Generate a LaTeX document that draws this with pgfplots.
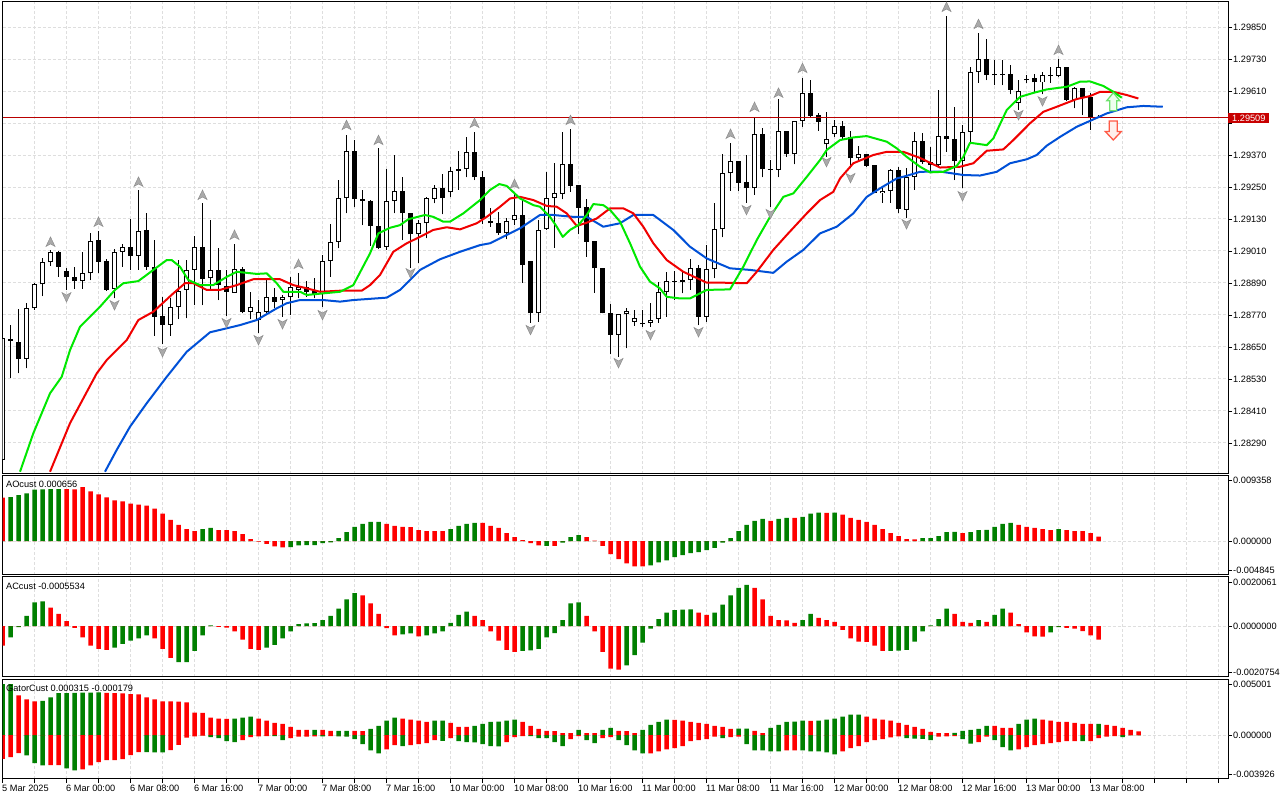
\documentclass[border=0pt]{standalone}
\usepackage{fontspec}
\setmainfont{Liberation Sans}
\usepackage{pgfplots}
\usepackage{pgfplotstable}
\pgfplotsset{compat=1.18}

\definecolor{barg}{RGB}{0,128,0}
\definecolor{barr}{RGB}{255,0,0}
\definecolor{gridc}{RGB}{222,222,222}
\definecolor{lips}{RGB}{0,232,0}
\definecolor{teeth}{RGB}{240,0,0}
\definecolor{jaw}{RGB}{0,80,215}
\definecolor{bidline}{RGB}{185,0,0}
\definecolor{bidbox}{RGB}{200,0,0}
\definecolor{fracfill}{RGB}{170,170,170}
\definecolor{fracdraw}{RGB}{140,140,140}
\definecolor{upedge}{RGB}{110,225,110}
\definecolor{upfill}{RGB}{238,255,238}
\definecolor{dnedge}{RGB}{255,90,70}
\definecolor{dnfill}{RGB}{255,240,236}

\newcommand{\lab}{\fontsize{9.2}{11}\selectfont}

\pgfdeclareplotmark{fup}{%
  \pgfpathmoveto{\pgfqpoint{0pt}{5pt}}%
  \pgfpathlineto{\pgfqpoint{4.5pt}{-4.5pt}}%
  \pgfpathlineto{\pgfqpoint{0pt}{-2pt}}%
  \pgfpathlineto{\pgfqpoint{-4.5pt}{-4.5pt}}%
  \pgfpathclose
  \pgfusepathqfillstroke}
\pgfdeclareplotmark{fdown}{%
  \pgfpathmoveto{\pgfqpoint{0pt}{-5pt}}%
  \pgfpathlineto{\pgfqpoint{4.5pt}{4.5pt}}%
  \pgfpathlineto{\pgfqpoint{0pt}{2pt}}%
  \pgfpathlineto{\pgfqpoint{-4.5pt}{4.5pt}}%
  \pgfpathclose
  \pgfusepathqfillstroke}
\pgfdeclareplotmark{bigup}{%
  \pgfpathmoveto{\pgfqpoint{0pt}{9pt}}%
  \pgfpathlineto{\pgfqpoint{6.5pt}{1pt}}%
  \pgfpathlineto{\pgfqpoint{3.5pt}{1pt}}%
  \pgfpathlineto{\pgfqpoint{3.5pt}{-9pt}}%
  \pgfpathlineto{\pgfqpoint{-3.5pt}{-9pt}}%
  \pgfpathlineto{\pgfqpoint{-3.5pt}{1pt}}%
  \pgfpathlineto{\pgfqpoint{-6.5pt}{1pt}}%
  \pgfpathclose
  \pgfusepathqfillstroke}
\pgfdeclareplotmark{bigdown}{%
  \pgfpathmoveto{\pgfqpoint{0pt}{-9.5pt}}%
  \pgfpathlineto{\pgfqpoint{8pt}{-1pt}}%
  \pgfpathlineto{\pgfqpoint{4pt}{-1pt}}%
  \pgfpathlineto{\pgfqpoint{4pt}{9.5pt}}%
  \pgfpathlineto{\pgfqpoint{-4pt}{9.5pt}}%
  \pgfpathlineto{\pgfqpoint{-4pt}{-1pt}}%
  \pgfpathlineto{\pgfqpoint{-8pt}{-1pt}}%
  \pgfpathclose
  \pgfusepathqfillstroke}

\pgfplotsset{
  pane/.style={
    scale only axis, width=1225.5pt,
    xmin=0, xmax=153.1875,
    scaled x ticks=false, scaled y ticks=false,
    axis line style={black, line width=1pt},
    xtick={0,4,...,152}, xticklabels={}, xmajorgrids=true,
    grid style={gridc, line width=1pt, dash pattern=on 3pt off 2pt},
    ytick pos=right, yticklabel pos=right,
    tick align=outside, major tick length=4pt,
    tick style={black, line width=0.8pt},
    yticklabel style={font=\lab, anchor=west, inner sep=0pt, xshift=1pt},
    xmajorticks=false,
    clip mode=individual,
  },
  hbar/.style={ybar, bar width=4.5pt, bar shift=0pt, draw=none, forget plot},
  ebar/.style={only marks, mark=*, mark size=0pt, mark options={draw=none, fill=none}, forget plot},
}

% k open high low close (H1 candles)
\pgfplotstableread{
k o h l c
0 1.28226 1.28683 1.28188 1.28683
1 1.28674 1.28732 1.28534 1.28678
2 1.28670 1.28791 1.28551 1.28604
3 1.28604 1.28814 1.28570 1.28795
4 1.28795 1.28890 1.28789 1.28885
5 1.28885 1.28982 1.28841 1.28967
6 1.28967 1.29014 1.28954 1.29006
7 1.29006 1.29010 1.28913 1.28951
8 1.28935 1.28945 1.28864 1.28911
9 1.28911 1.28951 1.28868 1.28896
10 1.28896 1.29007 1.28868 1.28926
11 1.28926 1.29078 1.28901 1.29047
12 1.29051 1.29085 1.28926 1.28970
13 1.28973 1.28979 1.28861 1.28864
14 1.28867 1.29016 1.28832 1.29007
15 1.29007 1.29036 1.28951 1.29024
16 1.29024 1.29129 1.28939 1.28991
17 1.28992 1.29239 1.28939 1.29085
18 1.29089 1.29151 1.28939 1.28951
19 1.28951 1.29051 1.28692 1.28763
20 1.28767 1.28838 1.28660 1.28733
21 1.28733 1.28832 1.28692 1.28801
22 1.28799 1.28976 1.28754 1.28861
23 1.28864 1.28976 1.28757 1.28939
24 1.28939 1.29067 1.28807 1.29024
25 1.29024 1.29189 1.28807 1.28904
26 1.28907 1.29126 1.28864 1.28939
27 1.28939 1.29020 1.28826 1.28882
28 1.28879 1.28939 1.28767 1.28857
29 1.28853 1.29036 1.28853 1.28941
30 1.28941 1.28951 1.28776 1.28782
31 1.28782 1.28857 1.28754 1.28801
32 1.28751 1.28826 1.28703 1.28782
33 1.28782 1.28901 1.28776 1.28836
34 1.28836 1.28870 1.28795 1.28820
35 1.28826 1.28845 1.28763 1.28836
36 1.28836 1.28913 1.28770 1.28876
37 1.28864 1.28926 1.28832 1.28876
38 1.28876 1.28897 1.28838 1.28857
39 1.28861 1.28907 1.28832 1.28849
40 1.28849 1.28995 1.28801 1.28972
41 1.28972 1.29111 1.28913 1.29044
42 1.29044 1.29276 1.29020 1.29207
43 1.29207 1.29445 1.29151 1.29385
44 1.29385 1.29426 1.29174 1.29204
45 1.29205 1.29239 1.29107 1.29197
46 1.29197 1.29201 1.29030 1.29105
47 1.29105 1.29395 1.29017 1.29022
48 1.29026 1.29317 1.29014 1.29197
49 1.29197 1.29370 1.29151 1.29235
50 1.29235 1.29288 1.29051 1.29151
51 1.29151 1.29152 1.28947 1.29072
52 1.29072 1.29126 1.28966 1.29114
53 1.29114 1.29213 1.29057 1.29207
54 1.29205 1.29257 1.29189 1.29245
55 1.29245 1.29299 1.29147 1.29207
56 1.29230 1.29326 1.29211 1.29310
57 1.29317 1.29385 1.29239 1.29311
58 1.29316 1.29438 1.29286 1.29380
59 1.29380 1.29457 1.29276 1.29286
60 1.29286 1.29310 1.29111 1.29130
61 1.29123 1.29170 1.29101 1.29114
62 1.29114 1.29155 1.29070 1.29076
63 1.29076 1.29132 1.29054 1.29123
64 1.29126 1.29227 1.29107 1.29144
65 1.29145 1.29201 1.28891 1.28957
66 1.28972 1.28972 1.28741 1.28776
67 1.28776 1.29126 1.28745 1.29089
68 1.29091 1.29307 1.29089 1.29207
69 1.29207 1.29341 1.29022 1.29226
70 1.29224 1.29457 1.29204 1.29336
71 1.29336 1.29466 1.29232 1.29255
72 1.29257 1.29257 1.29072 1.29172
73 1.29174 1.29204 1.28988 1.29045
74 1.29047 1.29047 1.28853 1.28945
75 1.28947 1.28947 1.28776 1.28776
76 1.28776 1.28811 1.28622 1.28695
77 1.28695 1.28772 1.28613 1.28772
78 1.28772 1.28795 1.28645 1.28786
79 1.28745 1.28789 1.28729 1.28757
80 1.28737 1.28789 1.28726 1.28735
81 1.28739 1.28814 1.28725 1.28751
82 1.28754 1.28895 1.28741 1.28855
83 1.28855 1.28932 1.28763 1.28897
84 1.28897 1.28936 1.28826 1.28894
85 1.28894 1.28939 1.28851 1.28901
86 1.28901 1.28979 1.28864 1.28945
87 1.28945 1.28957 1.28732 1.28763
88 1.28763 1.29032 1.28745 1.28941
89 1.28941 1.29189 1.28907 1.29091
90 1.29091 1.29372 1.29061 1.29301
91 1.29301 1.29414 1.29236 1.29347
92 1.29347 1.29347 1.29236 1.29266
93 1.29267 1.29370 1.29191 1.29245
94 1.29245 1.29513 1.29220 1.29449
95 1.29449 1.29470 1.29286 1.29316
96 1.29316 1.29351 1.29176 1.29314
97 1.29314 1.29579 1.29286 1.29460
98 1.29460 1.29460 1.29363 1.29372
99 1.29372 1.29497 1.29335 1.29497
100 1.29497 1.29657 1.29476 1.29601
101 1.29601 1.29651 1.29513 1.29517
102 1.29520 1.29528 1.29461 1.29495
103 1.29410 1.29530 1.29363 1.29429
104 1.29449 1.29501 1.29438 1.29480
105 1.29480 1.29498 1.29429 1.29436
106 1.29436 1.29461 1.29320 1.29357
107 1.29357 1.29404 1.29351 1.29372
108 1.29372 1.29372 1.29326 1.29329
109 1.29332 1.29332 1.29226 1.29226
110 1.29226 1.29249 1.29191 1.29235
111 1.29236 1.29316 1.29191 1.29314
112 1.29314 1.29324 1.29151 1.29166
113 1.29164 1.29320 1.29132 1.29286
114 1.29286 1.29457 1.29239 1.29422
115 1.29422 1.29451 1.29336 1.29345
116 1.29345 1.29401 1.29301 1.29332
117 1.29332 1.29614 1.29326 1.29441
118 1.29441 1.29891 1.29382 1.29429
119 1.29429 1.29551 1.29276 1.29348
120 1.29348 1.29482 1.29245 1.29457
121 1.29457 1.29701 1.29414 1.29681
122 1.29681 1.29828 1.29641 1.29729
123 1.29729 1.29804 1.29651 1.29670
124 1.29673 1.29726 1.29632 1.29669
125 1.29673 1.29726 1.29632 1.29671
126 1.29673 1.29707 1.29597 1.29614
127 1.29564 1.29651 1.29539 1.29610
128 1.29650 1.29670 1.29641 1.29657
129 1.29657 1.29673 1.29607 1.29642
130 1.29642 1.29682 1.29597 1.29670
131 1.29669 1.29701 1.29641 1.29666
132 1.29666 1.29732 1.29661 1.29699
133 1.29699 1.29701 1.29573 1.29576
134 1.29576 1.29624 1.29545 1.29620
135 1.29620 1.29620 1.29520 1.29582
136 1.29586 1.29603 1.29464 1.29507
137 1.29510 1.29520 1.29507 1.29509
}\candles

% AO: k value green(1)/red(0)
\pgfplotstableread{
k v g
0 6.24e-3 0
1 6.34e-3 1
2 6.63e-3 1
3 6.87e-3 1
4 7.40e-3 1
5 7.44e-3 1
6 7.46e-3 1
7 7.48e-3 1
8 7.46e-3 0
9 7.44e-3 0
10 7.75e-3 0
11 7.16e-3 0
12 6.73e-3 0
13 6.29e-3 0
14 5.85e-3 0
15 5.70e-3 0
16 5.41e-3 0
17 5.26e-3 0
18 5.12e-3 0
19 4.68e-3 0
20 3.95e-3 0
21 3.07e-3 0
22 2.34e-3 0
23 1.75e-3 0
24 1.46e-3 0
25 1.75e-3 1
26 1.90e-3 1
27 1.61e-3 0
28 1.60e-3 0
29 1.46e-3 0
30 1.02e-3 0
31 0.29e-3 0
32 -0.05e-3 0
33 -0.39e-3 0
34 -0.73e-3 0
35 -0.88e-3 0
36 -0.86e-3 1
37 -0.58e-3 1
38 -0.57e-3 1
39 -0.56e-3 1
40 -0.29e-3 1
41 -0.15e-3 1
42 0.44e-3 1
43 1.32e-3 1
44 2.05e-3 1
45 2.49e-3 1
46 2.78e-3 1
47 2.79e-3 1
48 2.49e-3 0
49 2.19e-3 0
50 2.05e-3 0
51 2.04e-3 0
52 1.61e-3 0
53 1.46e-3 0
54 1.45e-3 0
55 1.44e-3 0
56 1.75e-3 1
57 2.19e-3 1
58 2.49e-3 1
59 2.63e-3 1
60 2.62e-3 0
61 2.19e-3 0
62 1.90e-3 0
63 1.17e-3 0
64 0.58e-3 0
65 0.15e-3 0
66 -0.29e-3 0
67 -0.58e-3 0
68 -0.66e-3 1
69 -0.68e-3 0
70 -0.19e-3 1
71 0.58e-3 1
72 0.88e-3 1
73 0.58e-3 0
74 0.10e-3 0
75 -0.68e-3 0
76 -1.85e-3 0
77 -2.58e-3 0
78 -3.17e-3 0
79 -3.61e-3 0
80 -3.62e-3 0
81 -3.46e-3 1
82 -3.02e-3 1
83 -2.73e-3 1
84 -2.29e-3 1
85 -2.00e-3 1
86 -1.71e-3 1
87 -1.56e-3 1
88 -1.27e-3 1
89 -0.97e-3 1
90 -0.19e-3 1
91 0.44e-3 1
92 1.46e-3 1
93 2.34e-3 1
94 2.92e-3 1
95 3.22e-3 1
96 2.92e-3 0
97 3.22e-3 1
98 3.36e-3 1
99 3.34e-3 0
100 3.51e-3 1
101 3.95e-3 1
102 4.09e-3 1
103 4.08e-3 0
104 4.10e-3 1
105 3.80e-3 0
106 3.36e-3 0
107 3.07e-3 0
108 2.78e-3 0
109 2.34e-3 0
110 1.75e-3 0
111 1.17e-3 0
112 0.73e-3 0
113 0.29e-3 0
114 0.28e-3 0
115 0.44e-3 1
116 0.45e-3 1
117 0.73e-3 1
118 1.32e-3 1
119 1.33e-3 1
120 1.17e-3 0
121 1.32e-3 1
122 1.61e-3 1
123 1.62e-3 1
124 2.05e-3 1
125 2.49e-3 1
126 2.63e-3 1
127 2.34e-3 0
128 2.05e-3 0
129 1.90e-3 0
130 1.75e-3 0
131 1.61e-3 0
132 1.75e-3 1
133 1.61e-3 0
134 1.46e-3 0
135 1.45e-3 0
136 1.17e-3 0
137 0.656e-3 0
}\ao

% AC: k value green(1)/red(0)
\pgfplotstableread{
k v g
0 -0.80e-3 0
1 -0.46e-3 1
2 -0.04e-3 1
3 0.42e-3 1
4 0.97e-3 1
5 1.01e-3 1
6 0.76e-3 0
7 0.50e-3 0
8 0.21e-3 0
9 -0.07e-3 0
10 -0.46e-3 0
11 -0.80e-3 0
12 -0.93e-3 0
13 -0.97e-3 0
14 -0.88e-3 1
15 -0.72e-3 1
16 -0.59e-3 1
17 -0.50e-3 1
18 -0.38e-3 1
19 -0.50e-3 0
20 -0.93e-3 0
21 -1.30e-3 0
22 -1.47e-3 1
23 -1.47e-3 1
24 -1.01e-3 1
25 -0.38e-3 1
26 0.03e-3 1
27 -0.03e-3 0
28 -0.06e-3 0
29 -0.21e-3 0
30 -0.55e-3 0
31 -0.93e-3 0
32 -0.97e-3 0
33 -0.88e-3 1
34 -0.76e-3 1
35 -0.50e-3 1
36 -0.21e-3 1
37 0.08e-3 1
38 0.11e-3 1
39 0.12e-3 1
40 0.25e-3 1
41 0.42e-3 1
42 0.72e-3 1
43 1.09e-3 1
44 1.35e-3 1
45 1.26e-3 0
46 0.93e-3 0
47 0.50e-3 0
48 -0.08e-3 0
49 -0.38e-3 0
50 -0.34e-3 1
51 -0.29e-3 1
52 -0.42e-3 0
53 -0.38e-3 1
54 -0.29e-3 1
55 -0.21e-3 1
56 0.13e-3 1
57 0.46e-3 1
58 0.59e-3 1
59 0.42e-3 0
60 0.25e-3 0
61 -0.21e-3 0
62 -0.59e-3 0
63 -0.97e-3 0
64 -1.05e-3 0
65 -1.01e-3 1
66 -0.99e-3 1
67 -0.93e-3 1
68 -0.46e-3 1
69 -0.28e-3 1
70 0.25e-3 1
71 0.93e-3 1
72 0.97e-3 1
73 0.42e-3 0
74 -0.21e-3 0
75 -1.05e-3 0
76 -1.73e-3 0
77 -1.77e-3 0
78 -1.60e-3 1
79 -1.18e-3 1
80 -0.67e-3 1
81 -0.10e-3 1
82 0.29e-3 1
83 0.55e-3 1
84 0.65e-3 1
85 0.67e-3 1
86 0.68e-3 1
87 0.55e-3 0
88 0.46e-3 0
89 0.55e-3 1
90 0.88e-3 1
91 1.26e-3 1
92 1.56e-3 1
93 1.68e-3 1
94 1.56e-3 0
95 1.09e-3 0
96 0.42e-3 0
97 0.25e-3 0
98 0.24e-3 0
99 0.13e-3 0
100 0.25e-3 1
101 0.50e-3 1
102 0.34e-3 0
103 0.25e-3 0
104 0.17e-3 0
105 -0.15e-3 0
106 -0.50e-3 0
107 -0.63e-3 0
108 -0.64e-3 0
109 -0.80e-3 0
110 -1.01e-3 0
111 -1.01e-3 1
112 -1.00e-3 1
113 -0.97e-3 1
114 -0.63e-3 1
115 -0.21e-3 1
116 0.03e-3 1
117 0.29e-3 1
118 0.72e-3 1
119 0.50e-3 0
120 0.17e-3 0
121 0.13e-3 0
122 0.25e-3 1
123 0.17e-3 0
124 0.46e-3 1
125 0.72e-3 1
126 0.55e-3 0
127 0.08e-3 0
128 -0.25e-3 0
129 -0.42e-3 0
130 -0.43e-3 0
131 -0.25e-3 1
132 -0.04e-3 1
133 -0.07e-3 0
134 -0.10e-3 0
135 -0.20e-3 0
136 -0.38e-3 0
137 -0.5534e-3 0
}\ac

% Gator: k upper green? lower green?
\pgfplotstableread{
k up ug lo lg
0 4.55e-3 1 -2.13e-3 0
1 4.55e-3 1 -1.97e-3 0
2 3.55e-3 0 -1.61e-3 0
3 3.19e-3 0 -1.82e-3 1
4 3.01e-3 0 -2.52e-3 1
5 3.05e-3 1 -2.70e-3 1
6 3.37e-3 1 -2.69e-3 0
7 3.73e-3 1 -2.68e-3 0
8 3.75e-3 1 -2.98e-3 1
9 3.77e-3 1 -3.16e-3 1
10 3.78e-3 1 -3.07e-3 0
11 3.79e-3 1 -2.70e-3 0
12 3.80e-3 1 -2.43e-3 0
13 3.76e-3 0 -2.25e-3 0
14 3.74e-3 0 -2.24e-3 0
15 3.72e-3 0 -2.16e-3 0
16 3.64e-3 0 -1.79e-3 0
17 3.62e-3 0 -1.52e-3 0
18 3.37e-3 0 -1.53e-3 1
19 3.19e-3 0 -1.54e-3 1
20 3.01e-3 0 -1.56e-3 1
21 3.00e-3 0 -1.34e-3 0
22 2.99e-3 0 -0.88e-3 0
23 2.91e-3 0 -0.24e-3 0
24 2.00e-3 0 -0.12e-3 0
25 1.98e-3 0 -0.06e-3 0
26 1.55e-3 0 -0.18e-3 1
27 1.46e-3 0 -0.27e-3 1
28 1.45e-3 0 -0.55e-3 1
29 1.47e-3 1 -0.64e-3 1
30 1.55e-3 1 -0.46e-3 0
31 1.64e-3 1 -0.18e-3 0
32 1.46e-3 0 -0.12e-3 0
33 1.28e-3 0 -0.09e-3 0
34 1.09e-3 0 -0.10e-3 1
35 1.00e-3 0 -0.46e-3 1
36 0.73e-3 0 -0.27e-3 0
37 0.46e-3 0 -0.15e-3 0
38 0.45e-3 0 -0.14e-3 0
39 0.47e-3 1 -0.12e-3 0
40 0.45e-3 0 -0.13e-3 1
41 0.36e-3 0 -0.09e-3 0
42 0.37e-3 1 -0.12e-3 1
43 0.38e-3 1 -0.15e-3 1
44 0.36e-3 0 -0.36e-3 1
45 0.35e-3 0 -0.82e-3 1
46 0.55e-3 1 -1.37e-3 1
47 0.82e-3 1 -1.64e-3 1
48 1.28e-3 1 -1.28e-3 0
49 1.55e-3 1 -0.91e-3 0
50 1.46e-3 0 -1.00e-3 1
51 1.37e-3 0 -0.91e-3 0
52 1.28e-3 0 -0.82e-3 0
53 1.18e-3 0 -0.73e-3 0
54 1.28e-3 1 -0.46e-3 0
55 1.29e-3 1 -0.52e-3 1
56 1.09e-3 0 -0.27e-3 0
57 0.73e-3 0 -0.55e-3 1
58 0.72e-3 0 -0.64e-3 1
59 0.82e-3 1 -0.65e-3 1
60 1.00e-3 1 -0.82e-3 1
61 1.18e-3 1 -1.00e-3 1
62 1.19e-3 1 -1.01e-3 1
63 1.28e-3 1 -0.64e-3 0
64 1.37e-3 1 -0.18e-3 0
65 1.18e-3 0 -0.09e-3 0
66 0.82e-3 0 -0.10e-3 1
67 0.55e-3 0 -0.27e-3 1
68 0.36e-3 0 -0.28e-3 1
69 0.35e-3 0 -0.64e-3 1
70 0.18e-3 0 -1.00e-3 1
71 0.17e-3 0 -0.36e-3 0
72 0.46e-3 1 -0.10e-3 0
73 0.18e-3 0 -0.46e-3 1
74 0.17e-3 0 -0.73e-3 1
75 0.46e-3 1 -0.27e-3 0
76 0.64e-3 1 -0.18e-3 0
77 0.36e-3 0 -0.46e-3 1
78 0.35e-3 0 -0.91e-3 1
79 0.18e-3 0 -1.37e-3 1
80 0.46e-3 1 -1.64e-3 1
81 0.91e-3 1 -1.63e-3 0
82 1.18e-3 1 -1.46e-3 0
83 1.37e-3 1 -1.28e-3 0
84 1.36e-3 0 -1.18e-3 0
85 1.28e-3 0 -1.00e-3 0
86 1.18e-3 0 -0.55e-3 0
87 1.09e-3 0 -0.46e-3 0
88 1.00e-3 0 -0.36e-3 0
89 0.82e-3 0 -0.15e-3 0
90 0.73e-3 0 -0.27e-3 1
91 0.55e-3 0 -0.18e-3 0
92 0.56e-3 1 -0.15e-3 0
93 0.57e-3 1 -0.82e-3 1
94 0.36e-3 0 -1.37e-3 1
95 0.18e-3 0 -1.38e-3 1
96 0.64e-3 1 -1.46e-3 1
97 0.91e-3 1 -1.47e-3 1
98 1.18e-3 1 -1.37e-3 0
99 1.19e-3 1 -1.36e-3 0
100 1.28e-3 1 -1.38e-3 1
101 1.27e-3 0 -1.46e-3 1
102 1.29e-3 1 -1.47e-3 1
103 1.37e-3 1 -1.55e-3 1
104 1.46e-3 1 -1.73e-3 1
105 1.64e-3 1 -1.46e-3 0
106 1.82e-3 1 -1.18e-3 0
107 1.83e-3 1 -1.00e-3 0
108 1.64e-3 0 -0.64e-3 0
109 1.46e-3 0 -0.46e-3 0
110 1.37e-3 0 -0.36e-3 0
111 1.28e-3 0 -0.20e-3 0
112 1.09e-3 0 -0.12e-3 0
113 0.91e-3 0 -0.27e-3 1
114 0.73e-3 0 -0.33e-3 1
115 0.55e-3 0 -0.34e-3 1
116 0.27e-3 0 -0.46e-3 1
117 0.18e-3 0 -0.15e-3 0
118 0.17e-3 0 -0.12e-3 0
119 0.19e-3 1 -0.09e-3 0
120 0.36e-3 1 -0.36e-3 1
121 0.46e-3 1 -0.76e-3 1
122 0.55e-3 1 -0.64e-3 0
123 0.82e-3 1 -0.15e-3 0
124 0.81e-3 0 -0.46e-3 1
125 0.64e-3 0 -1.09e-3 1
126 0.63e-3 0 -1.37e-3 1
127 1.00e-3 1 -1.28e-3 0
128 1.37e-3 1 -1.09e-3 0
129 1.46e-3 1 -0.91e-3 0
130 1.37e-3 0 -0.82e-3 0
131 1.28e-3 0 -0.73e-3 0
132 1.18e-3 0 -0.64e-3 0
133 1.17e-3 0 -0.55e-3 0
134 1.09e-3 0 -0.54e-3 0
135 1.00e-3 0 -0.55e-3 1
136 0.99e-3 0 -0.54e-3 0
137 1.00e-3 1 -0.27e-3 0
138 0.91e-3 0 -0.15e-3 0
139 0.82e-3 0 -0.09e-3 0
140 0.64e-3 0 -0.179e-3 1
141 0.46e-3 0 0 0
142 0.315e-3 0 0 0
}\gator

\begin{document}
\begin{tikzpicture}[x=1pt,y=1pt]
\useasboundingbox (0,0) rectangle (1280,800);

% ================= MAIN PRICE PANE =================
\begin{axis}[pane, at={(2.5pt,326pt)}, anchor=south west, height=472pt,
  ymin=1.281735, ymax=1.29944, ymajorgrids=true,
  ytick={1.28290,1.28410,1.28530,1.28650,1.28770,1.28890,1.29010,1.29130,1.29250,1.29370,1.29490,1.29610,1.29730,1.29850},
  yticklabels={1.28290,1.28410,1.28530,1.28650,1.28770,1.28890,1.29010,1.29130,1.29250,1.29370,,1.29610,1.29730,1.29850},
]
% wicks
\addplot[ebar,
  error bars/.cd, y dir=plus, y explicit, error mark=none,
  error bar style={black, line width=1pt}]
  table[x=k, y=l, y error plus expr={\thisrow{h}-\thisrow{l}}]{\candles};
% bearish bodies
\addplot[ebar,
  error bars/.cd, y dir=plus, y explicit, error mark=none,
  error bar style={black, line width=5pt}]
  table[x=k, y expr={\thisrow{c}<\thisrow{o} ? \thisrow{c} : 1.27},
        y error plus expr={max(\thisrow{o}-\thisrow{c},3.75e-5)}]{\candles};
% bullish bodies: outline
\addplot[ebar,
  error bars/.cd, y dir=plus, y explicit, error mark=none,
  error bar style={black, line width=5pt}]
  table[x=k, y expr={\thisrow{c}<\thisrow{o} ? 1.27 : \thisrow{o}},
        y error plus expr={max(\thisrow{c}-\thisrow{o},3.75e-5)}]{\candles};
% bullish bodies: white inside
\addplot[ebar,
  error bars/.cd, y dir=plus, y explicit, error mark=none,
  error bar style={white, line width=3pt}]
  table[x=k, y expr={\thisrow{c}<\thisrow{o} ? 1.27 : \thisrow{o}+3.75e-5},
        y error plus expr={max(\thisrow{c}-\thisrow{o}-7.5e-5,0)}]{\candles};
% bid line
\addplot[bidline, line width=1pt, forget plot] coordinates {(0,1.29509) (153.1875,1.29509)};
% Alligator lines
\addplot[jaw, line width=2pt, line join=round] coordinates {
(12.81,1.28182) (14.28,1.28264) (15.94,1.28351) (18.03,1.28439) (20.53,1.28538) (23.03,1.28632) (25.94,1.28705) (28.03,1.28720) (29.69,1.28732) (31.78,1.28751) (34.28,1.28795) (35.53,1.28814) (37.19,1.28826) (40.10,1.28826) (42.19,1.28820) (43.85,1.28826) (48.03,1.28835) (49.69,1.28864) (52.19,1.28939) (54.69,1.28979) (57.19,1.29007) (59.69,1.29032) (60.94,1.29039) (63.03,1.29070) (64.69,1.29095) (67.19,1.29145) (68.85,1.29145) (71.35,1.29138) (73.03,1.29138) (75.10,1.29101) (77.19,1.29114) (78.85,1.29145) (81.35,1.29145) (83.85,1.29089) (85.94,1.29026) (88.03,1.28982) (90.94,1.28945) (93.44,1.28939) (96.35,1.28928) (98.03,1.28970) (100.10,1.29014) (102.19,1.29076) (104.28,1.29101) (106.35,1.29151) (108.03,1.29213) (109.69,1.29245) (111.78,1.29282) (113.03,1.29292) (114.69,1.29307) (117.19,1.29308) (120.10,1.29295) (122.19,1.29293) (124.28,1.29307) (125.94,1.29339) (128.03,1.29354) (129.28,1.29370) (130.53,1.29405) (132.19,1.29438) (134.28,1.29476) (135.94,1.29498) (138.03,1.29526) (140.53,1.29549) (142.60,1.29554) (145.03,1.29551)};
\addplot[teeth, line width=2pt, line join=round] coordinates {
(5.94,1.28182) (8.44,1.28364) (11.78,1.28551) (13.03,1.28601) (15.53,1.28676) (16.98,1.28751) (18.85,1.28782) (21.35,1.28851) (22.81,1.28889) (23.85,1.28889) (25.53,1.28864) (27.19,1.28864) (29.28,1.28882) (31.35,1.28904) (33.03,1.28904) (34.69,1.28904) (36.35,1.28882) (38.03,1.28870) (39.69,1.28857) (42.19,1.28861) (44.90,1.28861) (45.94,1.28882) (47.19,1.28920) (48.85,1.29007) (50.53,1.29039) (52.19,1.29063) (53.85,1.29089) (55.53,1.29099) (57.19,1.29091) (59.28,1.29114) (60.53,1.29138) (62.19,1.29176) (63.44,1.29207) (64.69,1.29213) (66.35,1.29201) (68.03,1.29179) (69.28,1.29176) (70.53,1.29151) (71.78,1.29104) (73.03,1.29116) (74.28,1.29132) (75.94,1.29170) (77.60,1.29170) (78.85,1.29151) (80.10,1.29101) (81.35,1.29039) (83.03,1.28976) (85.10,1.28932) (88.03,1.28891) (90.10,1.28891) (93.03,1.28889) (94.28,1.28932) (96.35,1.29014) (98.03,1.29070) (100.53,1.29151) (102.19,1.29201) (103.85,1.29232) (104.69,1.29282) (106.35,1.29339) (108.85,1.29370) (110.53,1.29382) (112.60,1.29382) (114.69,1.29359) (117.19,1.29323) (119.69,1.29326) (121.35,1.29339) (123.03,1.29386) (125.10,1.29391) (126.35,1.29426) (128.44,1.29489) (130.10,1.29532) (131.78,1.29551) (134.28,1.29580) (135.94,1.29591) (137.19,1.29607) (138.85,1.29607) (140.53,1.29595) (141.98,1.29582)};
\addplot[lips, line width=2pt, line join=round] coordinates {
(2.19,1.28182) (3.85,1.28326) (5.94,1.28476) (7.40,1.28538) (8.44,1.28638) (9.69,1.28726) (12.19,1.28801) (14.06,1.28864) (15.10,1.28889) (16.98,1.28897) (18.85,1.28939) (20.53,1.28976) (21.15,1.28976) (22.19,1.28951) (23.23,1.28901) (24.69,1.28882) (26.35,1.28882) (28.03,1.28913) (29.28,1.28932) (31.78,1.28924) (33.03,1.28926) (34.28,1.28889) (35.10,1.28857) (37.19,1.28857) (38.03,1.28845) (40.10,1.28851) (42.19,1.28857) (43.85,1.28882) (45.94,1.29001) (46.98,1.29076) (48.44,1.29097) (49.69,1.29107) (50.73,1.29129) (52.81,1.29145) (53.85,1.29138) (55.10,1.29120) (55.94,1.29120) (57.60,1.29151) (59.69,1.29201) (60.94,1.29239) (62.10,1.29261) (63.03,1.29254) (64.69,1.29207) (66.35,1.29182) (67.19,1.29176) (68.44,1.29138) (69.28,1.29101) (70.03,1.29063) (70.94,1.29089) (71.98,1.29107) (73.03,1.29145) (73.85,1.29186) (75.10,1.29182) (75.94,1.29164) (77.19,1.29120) (78.44,1.29039) (79.69,1.28951) (80.94,1.28895) (82.16,1.28870) (83.03,1.28838) (84.69,1.28832) (85.94,1.28832) (88.03,1.28864) (90.94,1.28866) (92.60,1.28951) (94.28,1.29051) (95.94,1.29138) (97.60,1.29213) (98.85,1.29226) (100.53,1.29288) (102.19,1.29351) (103.03,1.29389) (104.69,1.29426) (106.35,1.29436) (108.03,1.29441) (110.53,1.29420) (111.78,1.29395) (113.03,1.29363) (114.69,1.29326) (115.94,1.29305) (117.60,1.29307) (119.28,1.29329) (120.10,1.29363) (120.94,1.29416) (123.03,1.29407) (123.85,1.29432) (125.53,1.29539) (127.19,1.29588) (128.85,1.29603) (130.53,1.29616) (133.03,1.29626) (134.69,1.29645) (135.94,1.29646) (137.60,1.29629) (138.85,1.29607) (139.90,1.29585)};
% fractals
\addplot[only marks, mark=fup, mark options={fill=fracfill, draw=fracdraw, line width=0.5pt, solid}] coordinates {
(6,1.29044) (12,1.29119) (17,1.29269) (25,1.29220) (29,1.29070) (37,1.28961) (43,1.29482) (47,1.29426) (59,1.29490) (64,1.29261) (71,1.29501) (91,1.29449) (94,1.29550) (97,1.29603) (100,1.29696) (118,1.29925) (122,1.29861) (132,1.29764)};
\addplot[only marks, mark=fdown, mark options={fill=fracfill, draw=fracdraw, line width=0.5pt, solid}] coordinates {
(8,1.28837) (14,1.28807) (20,1.28631) (28,1.28740) (32,1.28676) (35,1.28736) (40,1.28770) (51,1.28927) (66,1.28714) (77,1.28590) (81,1.28695) (87,1.28706) (93,1.29164) (96,1.29149) (103,1.29344) (106,1.29284) (113,1.29111) (120,1.29216) (127,1.29520) (130,1.29572)};
% signal arrows
\addplot[only marks, mark=bigup, mark options={fill=upfill, draw=upedge, line width=1.3pt, solid}] coordinates {(138.85,1.29570)};
\addplot[only marks, mark=bigdown, mark options={fill=dnfill, draw=dnedge, line width=1.3pt, solid}] coordinates {(138.85,1.29462)};
\coordinate (bid) at (axis cs:153.1875,1.29509);
\end{axis}
\node[fill=bidbox, text=white, font=\lab, anchor=west, inner xsep=4pt, inner ysep=2pt] at (bid) {1.29509};

% ================= AO PANE =================
\begin{axis}[pane, at={(2.5pt,225pt)}, anchor=south west, height=99pt,
  ymin=-0.004845, ymax=0.009358,
  ytick={-0.004128,0,0.008784}, yticklabels={-0.004845,0.000000,0.009358}]
\addplot[gridc, line width=1pt, dash pattern=on 3pt off 2pt, forget plot] coordinates {(0,0) (153.1875,0)};
\addplot[hbar, fill=barg] table[x=k, y expr={\thisrow{g}==1 ? \thisrow{v} : 0}]{\ao};
\addplot[hbar, fill=barr] table[x=k, y expr={\thisrow{g}==1 ? 0 : \thisrow{v}}]{\ao};
\node[anchor=west, font=\lab, inner sep=0pt, xshift=3.5pt, yshift=-8.5pt] at (rel axis cs:0,1) {AOcust 0.000656};
\end{axis}

% ================= AC PANE =================
\begin{axis}[pane, at={(2.5pt,123pt)}, anchor=south west, height=100pt,
  ymin=-0.0020754, ymax=0.0020061,
  ytick={-0.001871,0,0.001802}, yticklabels={-0.0020754,0.0000000,0.0020061}]
\addplot[gridc, line width=1pt, dash pattern=on 3pt off 2pt, forget plot] coordinates {(0,0) (153.1875,0)};
\addplot[hbar, fill=barg] table[x=k, y expr={\thisrow{g}==1 ? \thisrow{v} : 0}]{\ac};
\addplot[hbar, fill=barr] table[x=k, y expr={\thisrow{g}==1 ? 0 : \thisrow{v}}]{\ac};
\node[anchor=west, font=\lab, inner sep=0pt, xshift=3.5pt, yshift=-9.5pt] at (rel axis cs:0,1) {ACcust -0.0005534};
\end{axis}

% ================= GATOR PANE =================
\begin{axis}[pane, at={(2.5pt,21pt)}, anchor=south west, height=100pt,
  ymin=-0.003926, ymax=0.005001,
  ytick={-0.003479,0,0.004554}, yticklabels={-0.003926,0.000000,0.005001},
  xmajorticks=true, xtick pos=left,
  xticklabels={5 Mar 2025,,6 Mar 00:00,,6 Mar 08:00,,6 Mar 16:00,,7 Mar 00:00,,7 Mar 08:00,,7 Mar 16:00,,10 Mar 00:00,,10 Mar 08:00,,10 Mar 16:00,,11 Mar 00:00,,11 Mar 08:00,,11 Mar 16:00,,12 Mar 00:00,,12 Mar 08:00,,12 Mar 16:00,,13 Mar 00:00,,13 Mar 08:00,,,,},
  xticklabel style={font=\lab, anchor=north west, inner sep=0pt, xshift=-0.5pt, yshift=-2pt}]
\addplot[gridc, line width=1pt, dash pattern=on 3pt off 2pt, forget plot] coordinates {(0,0) (153.1875,0)};
\addplot[hbar, fill=barg] table[x=k, y expr={\thisrow{ug}==1 ? \thisrow{up} : 0}]{\gator};
\addplot[hbar, fill=barr] table[x=k, y expr={\thisrow{ug}==1 ? 0 : \thisrow{up}}]{\gator};
\addplot[hbar, fill=barg] table[x=k, y expr={\thisrow{lg}==1 ? \thisrow{lo} : 0}]{\gator};
\addplot[hbar, fill=barr] table[x=k, y expr={\thisrow{lg}==1 ? 0 : \thisrow{lo}}]{\gator};
\node[anchor=west, font=\lab, inner sep=0pt, xshift=3.5pt, yshift=-9pt] at (rel axis cs:0,1) {GatorCust 0.000315 -0.000179};
\end{axis}
\end{tikzpicture}
\end{document}
